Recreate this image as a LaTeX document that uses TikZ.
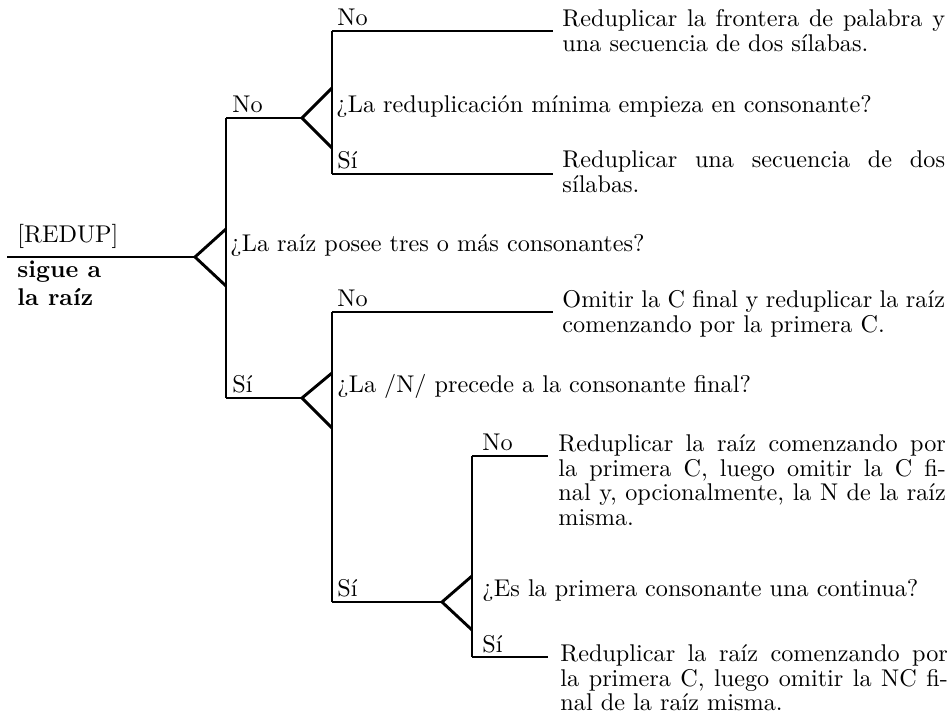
\documentclass[tikz,border=0pt]{standalone}
\usepackage{fontspec}
\newcommand{\acttext}[2]{\parbox[t]{#1}{\baselineskip=10.1pt #2}}
\begin{document}
\begin{tikzpicture}[x=0.413pt,y=-0.413pt,
    tree/.style={line width=0.7pt},
    fork/.style={line width=1.2pt,line join=miter},
    lbl/.style={anchor=base west,inner sep=0pt}]
   \useasboundingbox (0,0) rectangle (950,719);
   % root and first question
   \coordinate (R) at (7,257);
   \coordinate (A) at (195,257);
   \coordinate (A1) at (226,229);
   \coordinate (A2) at (226,286);
   \coordinate (An) at (226,118);
   \coordinate (As) at (226,398);
   \node (redup) [lbl] at (17,243) {[REDUP]};
   \node (sigue) [lbl] at (17,278) {\parbox[t]{60pt}{\bfseries\baselineskip=11.2pt sigue a\\la raíz}};
   \node (qA) [lbl] at (230,252) {¿La raíz posee tres o más consonantes?};
   \node (nA) [lbl] at (232,113) {No};
   \node (sA) [lbl] at (232,393) {Sí};
   % upper question
   \coordinate (B) at (302,118);
   \coordinate (B1) at (332,88);
   \coordinate (B2) at (332,148);
   \coordinate (Bn) at (332,31);
   \coordinate (Bs) at (332,174);
   \coordinate (Bne) at (553,31);
   \coordinate (Bse) at (553,174);
   \node (qB) [lbl] at (336,113) {¿La reduplicación mínima empieza en consonante?};
   \node (nB) [lbl] at (337,26) {No};
   \node (sB) [lbl] at (337,169) {Sí};
   \node (aBn) [lbl] at (562,27) {\acttext{158pt}{Reduplicar la frontera de palabra y\linebreak una secuencia de dos sílabas.}};
   \node (aBs) [lbl] at (562,168) {\acttext{158pt}{Reduplicar una secuencia de dos\linebreak sílabas.}};
   % lower question
   \coordinate (C) at (302,398);
   \coordinate (C1) at (332,373);
   \coordinate (C2) at (332,428);
   \coordinate (Cn) at (332,312);
   \coordinate (Cs) at (332,602);
   \coordinate (Cne) at (553,312);
   \node (qC) [lbl] at (337,393) {¿La /N/ precede a la consonante final?};
   \node (nC) [lbl] at (337,307) {No};
   \node (sC) [lbl] at (337,597) {Sí};
   \node (aCn) [lbl] at (562,308) {\acttext{158pt}{Omitir la C final y reduplicar la raíz\linebreak comenzando por la primera C.}};
   % last question
   \coordinate (D) at (442,602);
   \coordinate (D1) at (472,576);
   \coordinate (D2) at (472,630);
   \coordinate (Dn) at (472,456);
   \coordinate (Ds) at (472,657);
   \coordinate (Dne) at (548,456);
   \coordinate (Dse) at (548,657);
   \node (qD) [lbl] at (482,597) {¿Es la primera consonante una continua?};
   \node (nD) [lbl] at (482,451) {No};
   \node (sD) [lbl] at (482,653) {Sí};
   \node (aDn) [lbl] at (558,452) {\acttext{160pt}{Reduplicar la raíz comenzando por\linebreak la primera C, luego omitir la C fi-\linebreak nal y, opcionalmente, la N de la raíz\linebreak misma.}};
   \node (aDs) [lbl] at (560,662) {\acttext{160pt}{Reduplicar la raíz comenzando por\linebreak la primera C, luego omitir la NC fi-\linebreak nal de la raíz misma.}};
   % lines
   \path[tree]
     (R)  edge (A)
     (An) edge (As)
     (An) edge (B)
     (As) edge (C)
     (Bn) edge (Bs)
     (Bn) edge (Bne)
     (Bs) edge (Bse)
     (Cn) edge (Cs)
     (Cn) edge (Cne)
     (Cs) edge (D)
     (Dn) edge (Ds)
     (Dn) edge (Dne)
     (Ds) edge (Dse);
   \draw[fork] (A1) -- (A) -- (A2);
   \draw[fork] (B1) -- (B) -- (B2);
   \draw[fork] (C1) -- (C) -- (C2);
   \draw[fork] (D1) -- (D) -- (D2);
  \end{tikzpicture}
\end{document}
